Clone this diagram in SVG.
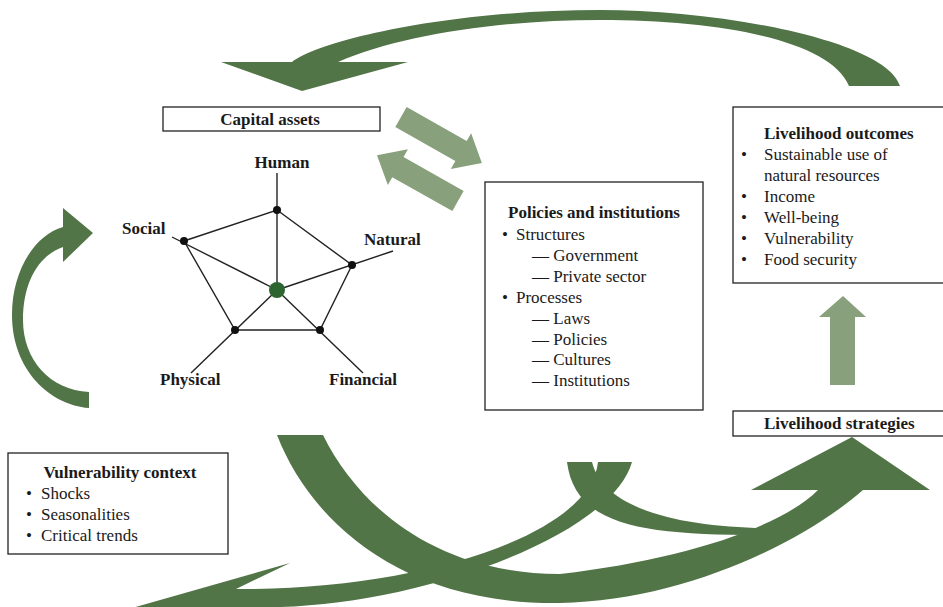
<svg xmlns="http://www.w3.org/2000/svg" width="943" height="607" viewBox="0 0 943 607">
<defs>
<style>
.bx{fill:#fff;stroke:#222;stroke-width:1.3}
.t{font-family:"Liberation Serif","Times New Roman",serif;font-size:17px;fill:#1a1a1a}
.b{font-weight:bold}
.m{text-anchor:middle}
.dk{fill:#527548}
.lt{fill:#88a07c}
.ax{stroke:#222;stroke-width:1.4;fill:none}
.dot{fill:#111}
</style>
<polygon id="sarrow" points="0,-11.5 69,-11.5 69,-20.5 93,0 69,20.5 69,11.5 0,11.5"/>
</defs>
<rect width="943" height="607" fill="#fff"/>
<g id="connectors">
<path class="dk" d="M900,86 C885,40 720,10 600,10 C450,10 320,40 292,62 L221,62 L302,91 L408,62 L338,62 C400,35 500,20 600,20 C720,20 830,40 849,86 Z"/>
<path class="dk" d="M89,408 C50,405 12,370 12,315 C12,270 35,235 63,227 L63,208 L93,233 L63,262 L63,247 C40,255 23,280 23,320 C23,360 50,390 89,392 Z"/>
<path class="dk" d="M277,435 C310,520 400,605 560,603 C680,601 800,545 863,490 L930,490 L852,437 L751,490 L818,490 C780,528 680,560 560,574 C440,574 360,510 323,435 Z"/>
<path class="dk" d="M567,462 C575,525 640,535 760,535 L790,528 C700,530 605,515 592,462 Z"/>
<path class="dk" d="M598,462 C590,535 420,590 236,589 L290,563 L118,612 L200,640 L250,607 C400,612 610,540 632,462 Z"/>
<use href="#sarrow" class="lt" transform="translate(401,117) rotate(29.6)"/>
<use href="#sarrow" class="lt" transform="translate(458,201) rotate(209.4)"/>
<polygon class="lt" points="843,296 866,317 855,317 855,385 830,385 830,317 819,317"/>
</g>
<g id="capital-assets">
<rect class="bx" x="163" y="107" width="217" height="24"/>
<text class="t b m" x="270" y="125">Capital assets</text>
</g>
<g id="radar">
<line class="ax" x1="277" y1="290" x2="277" y2="173"/>
<line class="ax" x1="277" y1="290" x2="172" y2="237"/>
<line class="ax" x1="277" y1="290" x2="393" y2="251"/>
<line class="ax" x1="277" y1="290" x2="363" y2="373"/>
<line class="ax" x1="277" y1="290" x2="191" y2="373"/>
<polygon class="ax" points="277,210 352,265 320,330 235,330 184,241"/>
<circle class="dot" cx="277" cy="210" r="4"/>
<circle class="dot" cx="352" cy="265" r="4"/>
<circle class="dot" cx="320" cy="330" r="4"/>
<circle class="dot" cx="235" cy="330" r="4"/>
<circle class="dot" cx="184" cy="241" r="4"/>
<circle cx="277" cy="290" r="8" fill="#2d6530"/>
<text class="t b m" x="282" y="168">Human</text>
<text class="t b" x="122" y="234">Social</text>
<text class="t b" x="364" y="245">Natural</text>
<text class="t b" x="160" y="385">Physical</text>
<text class="t b" x="329" y="385">Financial</text>
</g>
<g id="policies">
<rect class="bx" x="485" y="182" width="218" height="228"/>
<text class="t b m" x="594" y="218">Policies and institutions</text>
<text class="t" x="502" y="240">•</text><text class="t" x="516" y="240">Structures</text>
<text class="t" x="532" y="261">— Government</text>
<text class="t" x="532" y="282">— Private sector</text>
<text class="t" x="502" y="303">•</text><text class="t" x="516" y="303">Processes</text>
<text class="t" x="532" y="324">— Laws</text>
<text class="t" x="532" y="345">— Policies</text>
<text class="t" x="532" y="365">— Cultures</text>
<text class="t" x="532" y="386">— Institutions</text>
</g>
<g id="outcomes">
<rect class="bx" x="733" y="107" width="215" height="176"/>
<text class="t b" x="764" y="139">Livelihood outcomes</text>
<text class="t" x="741" y="160">•</text><text class="t" x="764" y="160">Sustainable use of</text>
<text class="t" x="764" y="181">natural resources</text>
<text class="t" x="741" y="202">•</text><text class="t" x="764" y="202">Income</text>
<text class="t" x="741" y="223">•</text><text class="t" x="764" y="223">Well-being</text>
<text class="t" x="741" y="244">•</text><text class="t" x="764" y="244">Vulnerability</text>
<text class="t" x="741" y="265">•</text><text class="t" x="764" y="265">Food security</text>
</g>
<g id="strategies">
<rect class="bx" x="733" y="411" width="215" height="25"/>
<text class="t b" x="764" y="429">Livelihood strategies</text>
</g>
<g id="vulnerability">
<rect class="bx" x="8" y="453" width="220" height="101"/>
<text class="t b m" x="120" y="478">Vulnerability context</text>
<text class="t" x="26" y="499">•</text><text class="t" x="41" y="499">Shocks</text>
<text class="t" x="26" y="520">•</text><text class="t" x="41" y="520">Seasonalities</text>
<text class="t" x="26" y="541">•</text><text class="t" x="41" y="541">Critical trends</text>
</g>
</svg>
